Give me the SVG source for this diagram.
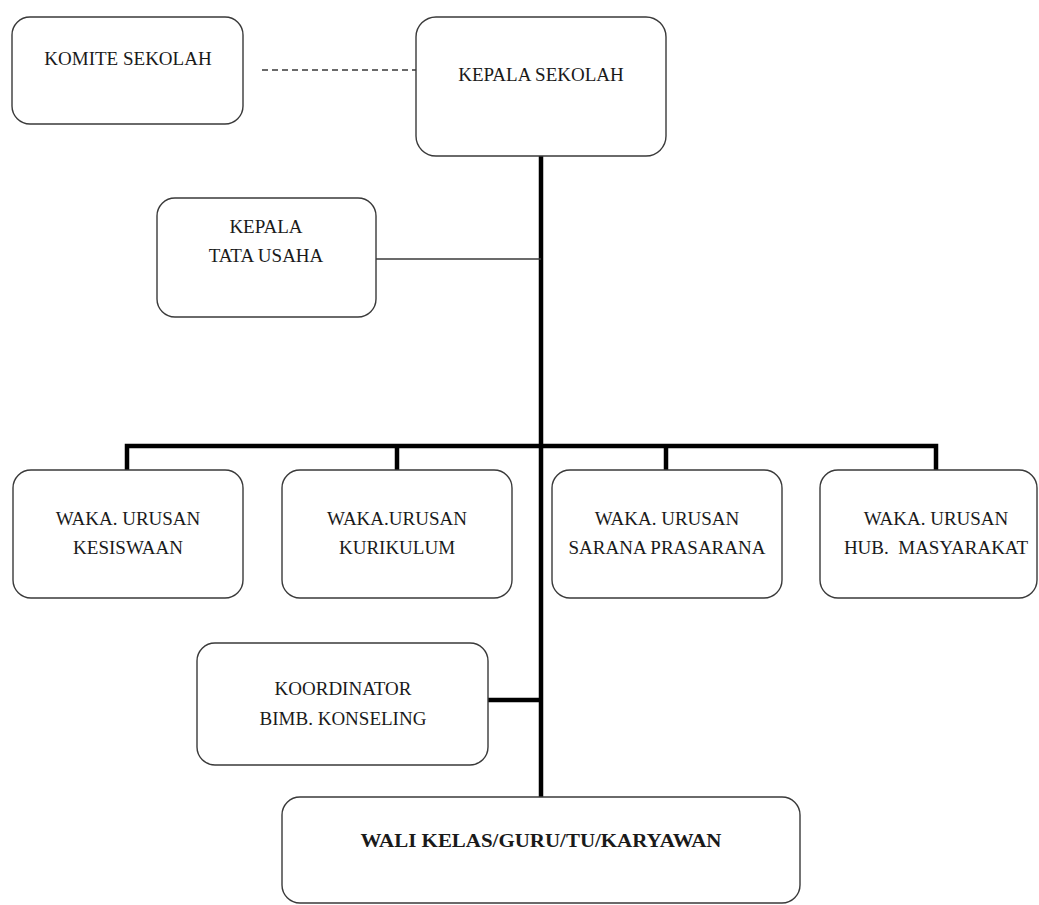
<svg xmlns="http://www.w3.org/2000/svg" width="1039" height="905" viewBox="0 0 1039 905">
<style>
.box{fill:#fff;stroke:#3a3a3a;stroke-width:1.4}
.t{font-family:"Liberation Serif","Times New Roman",serif;font-size:19px;fill:#1a1a1a;text-anchor:middle}
.b{font-weight:bold}
.thick{stroke:#000;stroke-width:4.5;fill:none}
.thin{stroke:#3a3a3a;stroke-width:1.4;fill:none}
.dash{stroke:#3a3a3a;stroke-width:1.4;stroke-dasharray:6 4;fill:none}
</style>
<rect width="1039" height="905" fill="#fff"/>
<g id="connectors">
<line class="dash" x1="262" y1="70" x2="416" y2="70"/>
<line class="thick" x1="541" y1="156" x2="541" y2="797"/>
<line class="thin" x1="376" y1="259" x2="541" y2="259"/>
<polyline class="thick" points="127,470 127,446 936,446 936,470"/>
<line class="thick" x1="397" y1="446" x2="397" y2="470"/>
<line class="thick" x1="666" y1="446" x2="666" y2="470"/>
<line class="thick" x1="488" y1="700" x2="541" y2="700"/>
</g>
<g id="komite">
<rect class="box" x="12" y="17" width="231" height="107" rx="18"/>
<text class="t" x="128" y="65">KOMITE SEKOLAH</text>
</g>
<g id="kepala-sekolah">
<rect class="box" x="416" y="17" width="250" height="139" rx="20"/>
<text class="t" x="541" y="81">KEPALA SEKOLAH</text>
</g>
<g id="tata-usaha">
<rect class="box" x="157" y="198" width="219" height="119" rx="18"/>
<text class="t" x="266" y="233">KEPALA</text>
<text class="t" x="266" y="262">TATA USAHA</text>
</g>
<g id="kesiswaan">
<rect class="box" x="13" y="470" width="230" height="128" rx="18"/>
<text class="t" x="128" y="525">WAKA. URUSAN</text>
<text class="t" x="128" y="554">KESISWAAN</text>
</g>
<g id="kurikulum">
<rect class="box" x="282" y="470" width="230" height="128" rx="18"/>
<text class="t" x="397" y="525">WAKA.URUSAN</text>
<text class="t" x="397" y="554">KURIKULUM</text>
</g>
<g id="sarana">
<rect class="box" x="552" y="470" width="230" height="128" rx="18"/>
<text class="t" x="667" y="525">WAKA. URUSAN</text>
<text class="t" x="667" y="554">SARANA PRASARANA</text>
</g>
<g id="humas">
<rect class="box" x="820" y="470" width="217" height="128" rx="18"/>
<text class="t" x="936" y="525">WAKA. URUSAN</text>
<text class="t" x="936" y="554" xml:space="preserve">HUB.  MASYARAKAT</text>
</g>
<g id="bk">
<rect class="box" x="197" y="643" width="291" height="122" rx="18"/>
<text class="t" x="343" y="695">KOORDINATOR</text>
<text class="t" x="343" y="725">BIMB. KONSELING</text>
</g>
<g id="wali">
<rect class="box" x="282" y="797" width="518" height="106" rx="18"/>
<text class="t b" x="541" y="847" textLength="361" lengthAdjust="spacingAndGlyphs">WALI KELAS/GURU/TU/KARYAWAN</text>
</g>
</svg>
